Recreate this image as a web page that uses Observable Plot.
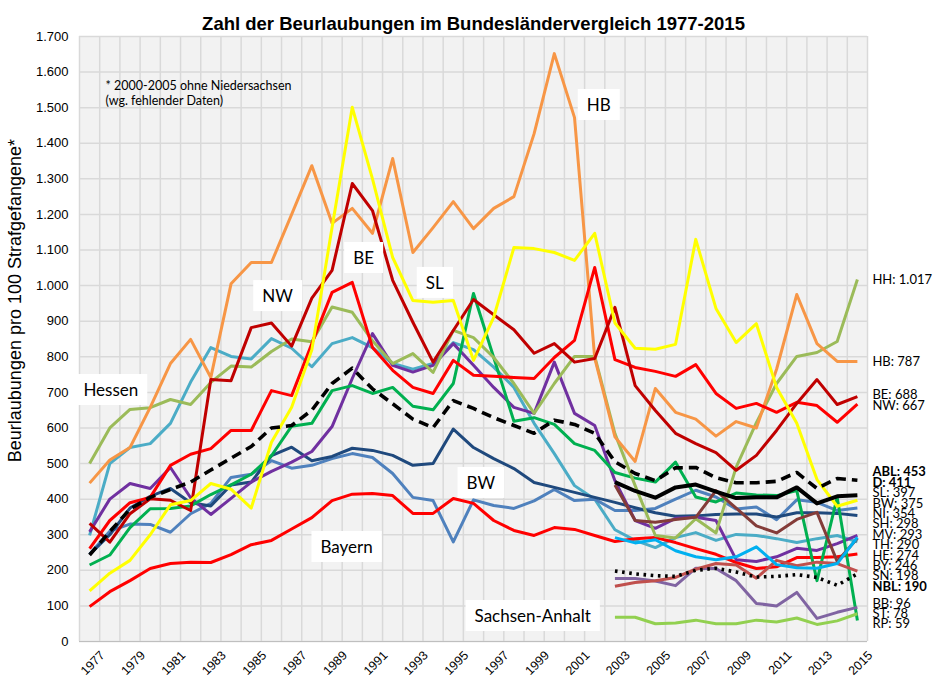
<!DOCTYPE html>
<html><head><meta charset="utf-8">
<script src="https://cdn.jsdelivr.net/npm/d3@7"></script>
<script src="https://cdn.jsdelivr.net/npm/@observablehq/plot@0.6"></script>
<style>
body{margin:0;background:#fff;}
#chart svg{display:block;}
</style></head><body><div id="chart"></div>
<script>
// ---- categories ----
const years = [1977,1978,1979,1980,1981,1982,1983,1984,1985,1986,1987,1988,1989,1990,1991,1992,1993,1994,1995,1996,1997,1998,1999,2000,2001,2002,2003,2004,2005,2006,2007,2008,2009,2010,2011,2012,2013,2014,2015];
const yearsEast = [2003,2004,2005,2006,2007,2008,2009,2010,2011,2012,2013,2014,2015];

// ---- series values (Beurlaubungen pro 100 Strafgefangene) ----
const HH  = [500,600,652,657,680,666,728,774,771,815,850,842,940,925,845,781,809,756,874,854,798,725,641,725,801,801,584,438,298,291,345,305,490,615,725,801,812,843,1017];
const HB  = [445,510,545,658,781,849,742,1005,1065,1065,1200,1337,1175,1217,1147,1357,1093,1163,1236,1160,1217,1250,1427,1652,1472,796,575,506,711,644,625,577,618,600,765,975,837,787,787];
const BE  = [332,279,359,401,397,368,736,733,882,895,830,965,1043,1287,1211,1015,897,785,874,961,918,876,810,837,785,795,939,719,649,585,556,531,481,523,593,669,736,666,688];
const NW  = [261,340,390,405,495,526,542,593,593,705,691,837,981,1009,826,762,714,697,790,748,745,742,739,798,846,1051,792,770,759,745,778,697,655,669,644,672,663,616,667];
const SL  = [142,192,228,300,384,396,444,428,375,560,658,820,1163,1501,1300,1079,958,953,958,790,911,1107,1104,1093,1071,1147,895,824,821,835,1130,936,840,893,714,613,455,380,397];
const BW  = [245,310,330,329,307,359,388,461,470,508,487,495,514,528,517,472,405,396,280,398,382,374,395,427,396,400,368,368,374,400,425,406,372,378,342,398,391,368,375];
const NI  = [245,300,375,408,430,390,381,440,448,522,546,508,520,543,537,523,495,500,597,545,514,486,447,433,419,405,391,376,362,352,353,357,358,358,350,362,362,360,354];
const SH  = [308,400,444,430,489,404,357,402,448,478,504,534,604,739,865,776,757,776,837,776,714,658,641,785,641,607,452,340,318,346,349,340,230,225,238,262,256,275,298];
const HE  = [298,500,545,556,613,729,826,801,794,851,824,772,837,854,826,781,765,781,840,820,771,714,613,528,438,400,314,284,264,292,306,284,301,298,289,278,289,298,280];
const BY  = [98,140,171,205,219,223,222,244,272,284,316,348,396,414,416,410,360,360,402,388,340,312,298,320,315,298,281,289,292,278,261,245,222,205,210,236,236,238,246];
const RP  = [215,243,320,373,374,381,413,440,470,522,605,613,705,719,697,714,661,651,725,978,798,619,629,610,556,537,475,459,448,504,406,392,417,412,410,424,171,405,59];
const ABL = [243,309,372,405,427,448,482,515,548,600,607,650,725,768,710,668,625,601,677,655,629,607,585,622,610,585,505,472,452,488,489,460,446,446,450,475,430,458,453];
// from 2003
const D   = [448,423,404,433,441,421,403,405,405,433,388,408,411];
const NBL = [198,190,185,183,200,206,195,181,183,188,180,158,190];
const MV  = [292,277,286,255,238,230,238,266,216,207,206,219,293];
const TH  = [440,340,335,343,349,424,375,325,305,343,363,225,290];
const SN  = [155,166,171,180,203,219,215,178,228,213,223,219,198];
const BB  = [177,177,170,157,206,205,171,107,100,138,65,82,96];
const ST  = [68,68,50,52,60,50,50,60,55,66,48,58,78];

// ---- end labels (printed 2015 values) ----
const endKeys   = ["HH","HB","BE","NW","ABL","D","SL","BW","NI","SH","MV","TH","HE","BY","SN","NBL","BB","ST","RP"];
const endValues = [1017,787,688,667,453,411,397,375,354,298,293,290,274,246,198,190,96,78,59];
const boldKeys  = ["ABL","D","NBL"];

// ---- tick labels / texts ----
const yTickValues = [0,100,200,300,400,500,600,700,800,900,1000,1100,1200,1300,1400,1500,1600,1700];
const xTickValues = [1977,1979,1981,1983,1985,1987,1989,1991,1993,1995,1997,1999,2001,2003,2005,2007,2009,2011,2013,2015];
const title = "Zahl der Beurlaubungen im Bundesländervergleich 1977-2015";
const yLabel = "Beurlaubungen pro 100 Strafgefangene*";
const noteLines = ["* 2000-2005 ohne Niedersachsen", "(wg. fehlender Daten)"];
const annotTexts = ["Hessen","NW","BE","SL","HB","BW","Bayern","Sachsen-Anhalt"];

// ---- build tables ----
const styles = {
  HE:{c:"#4BACC6"}, BW:{c:"#4F81BD"}, NI:{c:"#1F497D"}, BY:{c:"#FF0000"}, SH:{c:"#7030A0"},
  RP:{c:"#00B050"}, HH:{c:"#9BBB59"}, HB:{c:"#F79646"}, NW:{c:"#FF0000"}, BE:{c:"#C00000"},
  SL:{c:"#FFFF00"}, ST:{c:"#92D050"}, BB:{c:"#8064A2"}, SN:{c:"#C0504D"}, TH:{c:"#843C39"},
  MV:{c:"#00B0F0"}, NBL:{c:"#000", w:3.6, dash:"2.6,4.6"}, D:{c:"#000", w:4},
  ABL:{c:"#000", w:3.6, dash:"10,6"}
};
const seriesList = [
  ["HE",HE,years],["BW",BW,years],["NI",NI,years],["BY",BY,years],["SH",SH,years],
  ["RP",RP,years],["HH",HH,years],["HB",HB,years],["NW",NW,years],["BE",BE,years],
  ["SL",SL,years],["ST",ST,yearsEast],["BB",BB,yearsEast],["SN",SN,yearsEast],
  ["TH",TH,yearsEast],["MV",MV,yearsEast],["NBL",NBL,yearsEast],["D",D,yearsEast],["ABL",ABL,years]
];
const rows = seriesList.flatMap(([k, vals, yrs]) => vals.map((v, i) => ({key: k, year: yrs[i], value: v})));

const locale = d3.formatLocale({decimal: ",", thousands: ".", grouping: [3], currency: ["", " €"]});
const fmt = locale.format(",d");

// layout
const W = 938, H = 681, mL = 79, mR = 71, mT = 36, mB = 40;
const unitPerPx = 1700 / (H - mT - mB);

// dodge end labels
function dodge(items, gap) {
  const sorted = items.slice().sort((a, b) => b.v - a.v);
  let groups = sorted.map(d => [d]);
  const center = g => d3.mean(g, d => d.v);
  let merged = true;
  while (merged) {
    merged = false;
    for (let i = 0; i < groups.length - 1; i++) {
      const a = groups[i], b = groups[i + 1];
      const aLow = center(a) - (a.length - 1) / 2 * gap;
      const bHigh = center(b) + (b.length - 1) / 2 * gap;
      if (aLow - bHigh < gap) { groups.splice(i, 2, a.concat(b)); merged = true; break; }
    }
  }
  return groups.flatMap(g => { const c = center(g); return g.map((d, j) => ({...d, pos: c + ((g.length - 1) / 2 - j) * gap})); });
}
const labels = dodge(endKeys.map((k, i) => ({k, v: endValues[i], text: `${k}: ${fmt(endValues[i])}`})), 10.4 * unitPerPx);

// annotation anchor positions (year, value) for the boxed texts
const annotPos = [[1978.05,705],[1986.3,969],[1990.56,1076],[1994.08,1006],[2002.2,1506],[1996.36,444],[1989.72,264],[1998.93,70]];
const annots = annotTexts.map((t, i) => ({text: t, x: annotPos[i][0], y: annotPos[i][1]}));

const bounds = d3.range(1976.5, 2016, 1);

const lineMarks = seriesList.map(([k]) => {
  const s = styles[k];
  return Plot.line(rows.filter(r => r.key === k), {
    x: "year", y: "value", stroke: s.c, strokeWidth: s.w ?? 3,
    strokeDasharray: s.dash, strokeLinejoin: "round", strokeLinecap: "butt"
  });
});

const svg = Plot.plot({
  width: W, height: H,
  marginLeft: mL, marginRight: mR, marginTop: mT, marginBottom: mB,
  style: {fontFamily: "'Liberation Sans', Arial, sans-serif", background: "white", overflow: "visible", color: "#000"},
  x: {domain: [1976.5, 2015.5]},
  y: {domain: [0, 1700]},
  marks: [
    Plot.frame({fill: "#F2F2F2", stroke: null}),
    Plot.ruleY(yTickValues, {stroke: "#D9D9D9", strokeWidth: 1.5}),
    Plot.ruleX(bounds, {stroke: "#D9D9D9", strokeWidth: 1.5}),
    Plot.ruleY([0], {stroke: "#BFBFBF", strokeWidth: 1}),
    Plot.axisY({ticks: yTickValues, tickFormat: fmt, tickSize: 0, tickPadding: 11, fontSize: 13, label: null}),
    Plot.axisX({ticks: xTickValues, tickFormat: d => String(d), tickRotate: -45, textAnchor: "end", tickSize: 0, fontSize: 12.5, label: null, dx: 13, dy: 0}),
    ...lineMarks,
    Plot.text(annots, {x: "x", y: "y", text: "text", fontSize: 17, fontFamily: "Lato, 'Open Sans', sans-serif", fill: "#000"}),
    Plot.text(noteLines, {x: 1977.79, y: (d, i) => 1560 - i * 40, text: d => d, textAnchor: "start", fontSize: 12.5, fontFamily: "Lato, sans-serif", fill: "#000"}),
    Plot.text(labels.filter(d => !boldKeys.includes(d.k)), {x: 2015, y: "pos", text: "text", dx: 15, textAnchor: "start", fontSize: 13, fontFamily: "Lato, sans-serif", fill: "#000"}),
    Plot.text(labels.filter(d => boldKeys.includes(d.k)), {x: 2015, y: "pos", text: "text", dx: 15, textAnchor: "start", fontSize: 13, fontWeight: "bold", fontFamily: "Lato, sans-serif", fill: "#000"}),
    Plot.text([title], {frameAnchor: "top", dy: -20, text: d => d, fontSize: 18.5, fontWeight: "bold"}),
    Plot.text([yLabel], {x: 1976.5, y: 958, rotate: -90, dx: -64, text: d => d, fontSize: 18})
  ]
});
document.getElementById("chart").append(svg);

// white boxes behind the in-chart annotations
const annotSet = new Set(annotTexts);
svg.querySelectorAll("text").forEach(t => {
  if (!annotSet.has(t.textContent)) return;
  const b = t.getBBox();
  const r = document.createElementNS("http://www.w3.org/2000/svg", "rect");
  r.setAttribute("x", b.x - 9);
  r.setAttribute("y", b.y - 5);
  r.setAttribute("width", b.width + 18);
  r.setAttribute("height", b.height + 10);
  r.setAttribute("fill", "white");
  r.setAttribute("stroke", "none");
  const tr = t.getAttribute("transform");
  if (tr) r.setAttribute("transform", tr);
  t.parentNode.insertBefore(r, t);
});
</script>
</body></html>
